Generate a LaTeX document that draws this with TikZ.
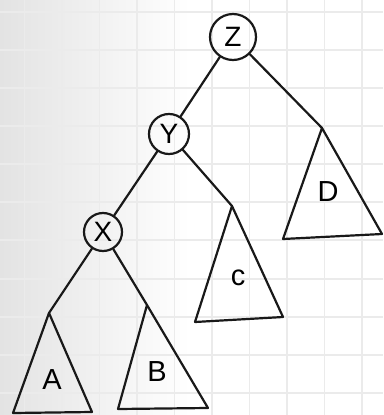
\documentclass[tikz,border=0pt]{standalone}
\usepackage{fontspec}
\setmainfont{Liberation Sans}
\begin{document}
\begin{tikzpicture}[x=1pt,y=-1pt,
  ink/.style={line width=2.2pt,line join=round,line cap=round,draw=black!90},
  keynode/.style={circle,ink,inner sep=0pt,font=\fontsize{28}{28}\selectfont},
  sublabel/.style={font=\fontsize{29}{29}\selectfont,inner sep=0pt},
  gridline/.style={draw=black!8,line width=1.6pt}]
% background paper
\fill[white] (0,0) rectangle (383,415);
\shade[left color=black!11,right color=white,draw=none] (0,0) rectangle (190,415);
\useasboundingbox (0,0) rectangle (383,415);
\foreach \gx in {24.5,62,99.5,137,174.5,212,249.5,287,324.5,362}
  \draw[gridline] (\gx,0) -- (\gx,415);
\foreach \gy in {12,50,88,126,164,202,240,279,317,355,393}
  \draw[gridline] (0,\gy) -- (383,\gy);
% key nodes
\node[keynode,minimum size=46pt] (Z) at (233,37) {Z};
\node[keynode,minimum size=40pt] (Y) at (169,134) {Y};
\node[keynode,minimum size=38pt] (X) at (103,232) {X};
% subtree apexes
\coordinate (Dtop) at (322,128);
\coordinate (Ctop) at (232,206);
\coordinate (Atop) at (49,313);
\coordinate (Btop) at (147,305);
% subtrees
\draw[ink] (Dtop) -- (283,239) -- (382,234) -- cycle;
\draw[ink] (Ctop) -- (195,322) -- (283,317) -- cycle;
\draw[ink] (Atop) -- (13,413) -- (92,412) -- cycle;
\draw[ink] (Btop) -- (118,409) -- (208,408) -- cycle;
\node[sublabel] (Dl) at (328,192) {D};
\node[sublabel] (Cl) at (238,278) {c};
\node[sublabel] (Al) at (52,380) {A};
\node[sublabel] (Bl) at (157,372) {B};
% edges
\draw[ink] (Z) -- (Y);
\draw[ink] (Z) -- (Dtop);
\draw[ink] (Y) -- (X);
\draw[ink] (Y) -- (Ctop);
\draw[ink] (X) -- (Atop);
\draw[ink] (X) -- (Btop);
\end{tikzpicture}
\end{document}
